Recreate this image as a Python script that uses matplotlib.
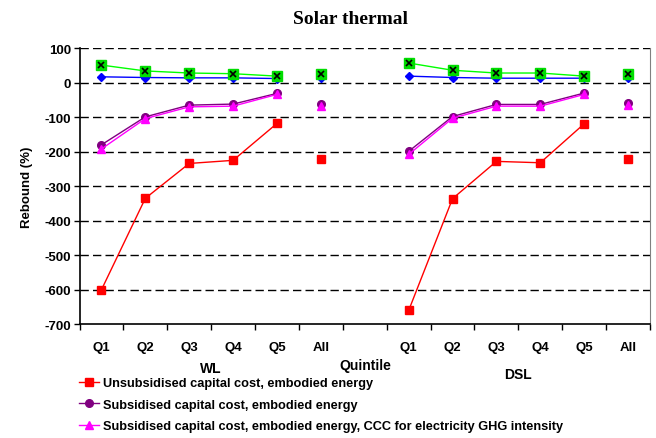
import numpy as np
import matplotlib.pyplot as plt

# Rebound (%) by income quintile, WL and DSL groups: Q1..Q5, All
groups = ["WL", "DSL"]
quintiles = ["Q1", "Q2", "Q3", "Q4", "Q5", "All"]

unsub_wl = [-600, -335, -234, -225, -118, -220]
unsub_dsl = [-660, -336, -228, -232, -119, -220]
sub_wl = [-180, -99, -65, -62, -31, -61]
sub_dsl = [-199, -98, -63, -63, -30, -59]
ccc_wl = [-192, -104, -70, -68, -34, -68]
ccc_dsl = [-208, -103, -68, -68, -34, -66]
blue_wl = [17, 15, 14, 14, 12, 15]
blue_dsl = [19, 15, 13, 13, 13, 14]
green_wl = [51, 34, 28, 26, 19, 25]
green_dsl = [57, 36, 28, 28, 19, 26]

legend_labels = [
    "Unsubsidised capital cost, embodied energy",
    "Subsidised capital cost, embodied energy",
    "Subsidised capital cost, embodied energy, CCC for electricity GHG intensity",
]

plt.rcParams["font.family"] = ["Liberation Sans", "DejaVu Sans"]
plt.rcParams["font.weight"] = "bold"
plt.rcParams["axes.unicode_minus"] = False

fig = plt.figure(figsize=(6.56, 4.39), dpi=100)
ax = fig.add_axes([0.1212, 0.259, 0.8697, 0.629])

# x positions: WL at 0..5, gap at 6, DSL at 7..12
xpos = {"WL": np.arange(6), "DSL": np.arange(7, 13)}

series = [
    (unsub_wl, unsub_dsl, dict(color="#FF0000", marker="s", ms=6), 0),
    (sub_wl, sub_dsl, dict(color="#800080", marker="o", ms=5.5), 1),
    (ccc_wl, ccc_dsl, dict(color="#FF00FF", marker="^", ms=6), 2),
    (blue_wl, blue_dsl, dict(color="#0000FF", marker="D", ms=4.5), None),
]

handles = {}
for wl, dsl, st, li in series:
    for g, vals in (("WL", wl), ("DSL", dsl)):
        x = xpos[g]
        h, = ax.plot(x[:5], vals[:5], lw=1, mec=st["color"], mfc=st["color"], **st)
        ax.plot(x[5], vals[5], lw=0, mec=st["color"], mfc=st["color"], **st)
        if li is not None:
            handles[li] = h

# green series: green squares with black crosses
for g, vals in (("WL", green_wl), ("DSL", green_dsl)):
    x = xpos[g]
    ax.plot(x[:5], vals[:5], color="#00FF00", lw=1, marker="s", ms=7,
            mfc="#00DD00", mec="#00DD00")
    ax.plot(x[5], vals[5], lw=0, marker="s", ms=7, mfc="#00DD00", mec="#00DD00")
    ax.plot(x, vals, lw=0, marker="x", ms=5, mec="black", mew=1.2)

ax.set_xlim(-0.5, 12.5)
ax.set_ylim(-700, 100)
ax.set_yticks(np.arange(-700, 101, 100))
for v in range(-600, 101, 100):
    ax.axhline(v, color="black", lw=1, ls=(0, (6, 3)), zorder=0)

ax.set_xticks(np.arange(-0.5, 13, 1))
ax.set_xticklabels([])
ax.set_xticks(list(xpos["WL"]) + list(xpos["DSL"]), minor=True)
ax.set_xticklabels(quintiles * 2, minor=True)
ax.tick_params(axis="x", which="minor", length=0, pad=12, labelsize=9.5)
ax.tick_params(axis="x", which="major", length=4, width=1, direction="out")
ax.tick_params(axis="y", length=4, width=1, labelsize=9.5, pad=2)

ax.spines["top"].set_visible(False)
ax.spines["right"].set_color("#808080")
ax.spines["left"].set_linewidth(1.2)
ax.spines["bottom"].set_linewidth(1.2)

ax.set_ylabel("Rebound (%)", fontsize=9.5, fontweight="bold", labelpad=8)

fig.text(0.534, 1 - 19 / 439, "Solar thermal", ha="center", va="center",
         family="Liberation Serif", fontsize=14, fontweight="bold")
fig.text(211 / 656, 1 - 369 / 439, groups[0], ha="center", va="center", fontsize=10)
fig.text(518 / 656, 1 - 375 / 439, groups[1], ha="center", va="center", fontsize=10)
fig.text(365 / 656, 1 - 366 / 439, "Quintile", ha="center", va="center", fontsize=10)

fig.legend([handles[i] for i in range(3)], legend_labels, loc="upper left",
           bbox_to_anchor=(79 / 656, 1 - 378 / 439), frameon=False,
           fontsize=9.2, handlelength=1.6, handletextpad=0.3,
           labelspacing=0.75, borderaxespad=0, borderpad=0)

fig.savefig("out.png", dpi=100)
